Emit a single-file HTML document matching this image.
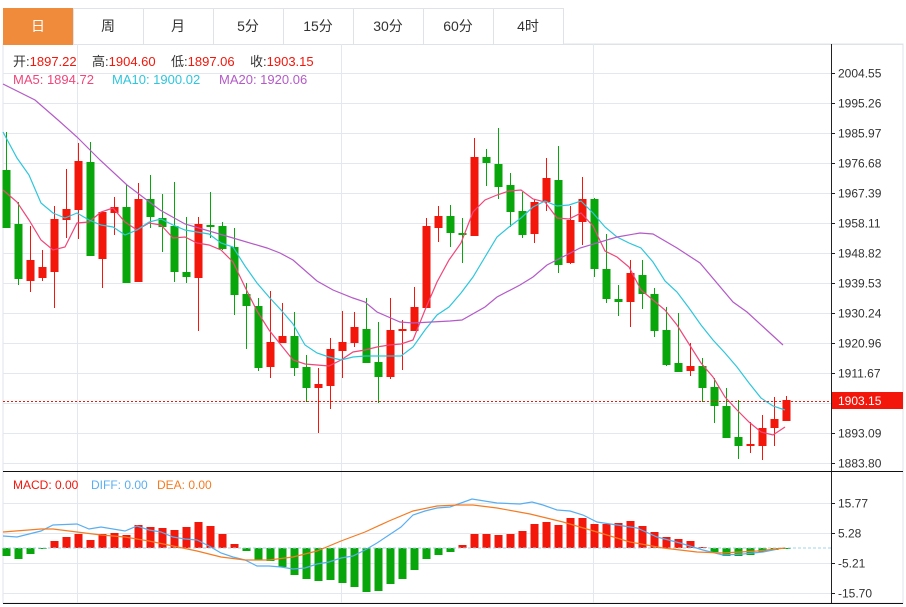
<!DOCTYPE html>
<html><head><meta charset="utf-8">
<style>
html,body{margin:0;padding:0;background:#fff;width:906px;height:607px;overflow:hidden}
svg{display:block;font-family:"Liberation Sans","Noto Sans CJK SC",sans-serif}
</style></head><body>
<svg id="s" width="906" height="607" xmlns="http://www.w3.org/2000/svg"></svg>
<script>
var S=document.getElementById('s'),h='';
var R='#f2160b',G='#08a60a';
// frame
h+='<rect x="3" y="44" width="900" height="559" fill="none" stroke="#dfe3e8"/>';
// tabs
var tabs=['日','周','月','5分','15分','30分','60分','4时'];
for(var i=0;i<8;i++){var x=3+i*70;
 h+='<rect x="'+(x+0.5)+'" y="8.5" width="70" height="36" fill="'+(i==0?'#f08b3c':'#fff')+'" stroke="'+(i==0?'#f08b3c':'#dfe3e8')+'"/>';
 h+='<text x="'+(x+35)+'" y="31" text-anchor="middle" font-size="14" fill="'+(i==0?'#fff':'#333')+'">'+tabs[i]+'</text>';}
h+='<line x1="563" y1="44.5" x2="903" y2="44.5" stroke="#dfe3e8"/>';
// grids
for(var y=73;y<=463;y+=30)h+='<line x1="3" y1="'+(y+.5)+'" x2="831" y2="'+(y+.5)+'" stroke="#e3e8ee"/>';
[77,341,593].forEach(function(x){h+='<line x1="'+(x+.5)+'" y1="44" x2="'+(x+.5)+'" y2="603" stroke="#e3e8ee"/>';});
[503,533,563,593].forEach(function(y){h+='<line x1="3" y1="'+(y+.5)+'" x2="831" y2="'+(y+.5)+'" stroke="#e3e8ee"/>';});
// axes
h+='<line x1="831.5" y1="44" x2="831.5" y2="603" stroke="#222"/>';
h+='<line x1="3" y1="471.5" x2="903" y2="471.5" stroke="#111"/>';
h+='<line x1="3" y1="603.5" x2="903" y2="603.5" stroke="#111"/>';
var lab=['2004.55','1995.26','1985.97','1976.68','1967.39','1958.11','1948.82','1939.53','1930.24','1920.96','1911.67','1903.15','1893.09','1883.80'];
var ly=[73,103,133,163,193,223,253,283,313,343,373,401,433,463];
for(var i=0;i<lab.length;i++){if(i==11)continue;h+='<line x1="831" y1="'+(ly[i]+.5)+'" x2="835" y2="'+(ly[i]+.5)+'" stroke="#222"/><text x="838" y="'+(ly[i]+4.5)+'" font-size="12" fill="#333">'+lab[i]+'</text>';}
var ml=['15.77','5.28','-5.21','-15.70'],my=[503,533,563,593];
for(var i=0;i<4;i++)h+='<line x1="831" y1="'+(my[i]+.5)+'" x2="835" y2="'+(my[i]+.5)+'" stroke="#222"/><text x="838" y="'+(my[i]+4.5)+'" font-size="12" fill="#333">'+ml[i]+'</text>';
// candles
var C=[['g',170,228,132,228],['g',224,279,202,285],['r',260,281,226,292],['r',267,278,250,281],['r',219,272,206,308],['r',209,220,169,238],['r',161,210,143,239],['g',162,256,142,256],['r',212,259,212,288],['r',207,213,197,235],['g',207,283,185,283],['r',199,282,183,282],['g',199,217,175,228],['g',218,227,194,252],['g',226,272,182,282],['g',272,277,217,283],['r',224,278,217,331],['g',225,227,192,238],['g',226,249,222,250],['g',247,295,228,315],['g',294,306,283,349],['g',306,368,298,371],['r',342,367,291,378],['r',336,343,303,343],['g',336,368,312,376],['g',367,388,355,402],['r',384,388,368,433],['r',349,386,338,409],['r',342,351,311,378],['r',327,343,312,347],['g',329,363,298,363],['g',362,377,322,403],['r',330,377,298,379],['r',329,331,320,370],['r',307,331,287,331],['r',226,308,218,308],
['r',216,228,206,242],['g',216,233,205,247],['g',233,235,218,263],['r',157,236,138,236],['g',157,163,149,186],['g',164,187,128,199],['g',185,212,173,227],['g',211,235,192,238],['r',202,234,199,243],['r',178,202,158,211],['g',180,265,146,273],['r',220,263,206,264],['r',199,222,177,245],['g',199,269,198,277],['g',269,299,234,303],['g',299,302,285,316],['r',273,302,260,327],['g',275,294,260,309],['g',294,331,288,337],['g',330,365,307,366],['g',363,372,313,372],['r',366,371,343,376],['g',366,388,358,402],['g',387,406,378,423],['g',406,438,388,438],['g',437,446,400,459],['r',444,446,422,453],['r',428,446,415,460],['r',419,428,397,446],['r',400,421,396,421]];
for(var i=0;i<C.length;i++){var c=C[i],x=6+12*i,col=c[0]=='r'?R:G;
 h+='<line x1="'+(x+.5)+'" y1="'+c[3]+'" x2="'+(x+.5)+'" y2="'+c[4]+'" stroke="'+col+'"/>';
 h+='<rect x="'+(x-3.5)+'" y="'+c[1]+'" width="8" height="'+Math.max(2,c[2]-c[1])+'" fill="'+col+'"/>';}
function pl(pts,col){var s=pts.map(function(p){return p.join(',')}).join(' ');h+='<polyline points="'+s+'" fill="none" stroke="'+col+'" stroke-width="1.2"/>';}
function idx(arr){return arr.map(function(v,i){return [6+12*i,v]})}
pl([[3,190],[17,202],[29,220],[41,240],[53,250],[65,247],[77,223],[89,222],[101,212],[113,208],[125,222],[137,230],[149,223],[161,225],[173,238],[185,237],[197,243],[209,245],[221,250],[233,262],[245,287],[257,311],[269,330],[281,345],[293,360],[305,364],[317,365],[329,366],[341,360],[353,352],[365,350],[377,347],[389,345],[401,344],[413,340],[425,310],[437,282],[449,260],[461,243],[473,212],[485,200],[497,195],[509,191],[521,190],[533,199],[545,202],[557,218],[569,219],[581,213],[593,226],[605,251],[617,257],[629,267],[641,290],[653,300],[665,310],[677,325],[689,344],[701,363],[713,377],[725,397],[737,410],[749,422],[761,432],[773,435],[785,427]],'#f0467a');
pl([[3,132],[17,158],[29,175],[41,203],[53,213],[65,218],[77,213],[89,220],[101,225],[113,227],[125,235],[137,230],[149,222],[161,219],[173,225],[185,230],[197,232],[209,234],[221,243],[233,247],[245,266],[257,283],[269,297],[281,310],[293,324],[305,345],[317,353],[329,357],[341,360],[353,357],[365,356],[377,356],[389,356],[401,356],[413,347],[425,330],[437,315],[449,307],[461,293],[473,277],[485,257],[497,237],[509,227],[521,218],[533,207],[545,201],[557,206],[569,205],[581,201],[593,213],[605,227],[617,237],[629,243],[641,248],[653,262],[665,281],[677,292],[689,308],[701,325],[713,340],[725,353],[737,367],[749,383],[761,398],[773,406],[785,410]],'#2ec6dc');
pl([[3,84],[35,100],[58,120],[77,137],[100,160],[127,185],[160,210],[185,224],[233,238],[267,248],[280,253],[293,260],[317,281],[333,290],[353,298],[365,302],[377,312],[400,322],[413,323],[450,321],[462,320],[485,307],[497,297],[520,285],[533,277],[547,265],[580,248],[617,237],[640,233],[653,234],[677,248],[700,263],[733,302],[747,312],[783,345]],'#b45ac8');
// price line
h+='<line x1="3" y1="401.5" x2="831" y2="401.5" stroke="'+R+'" stroke-dasharray="2,2"/>';
h+='<rect x="832" y="392" width="71" height="17" fill="'+R+'"/><text x="838" y="405" font-size="12" fill="#fff">1903.15</text>';
// legends
h+='<text x="13" y="66" font-size="13"><tspan fill="#333">开:</tspan><tspan fill="'+R+'">1897.22</tspan><tspan x="92" fill="#333">高:</tspan><tspan fill="'+R+'">1904.60</tspan><tspan x="171" fill="#333">低:</tspan><tspan fill="'+R+'">1897.06</tspan><tspan x="250" fill="#333">收:</tspan><tspan fill="'+R+'">1903.15</tspan></text>';
h+='<text x="13" y="84" font-size="13"><tspan fill="#f0467a">MA5: 1894.72</tspan><tspan x="112" fill="#2ec6dc">MA10: 1900.02</tspan><tspan x="219" fill="#b45ac8">MA20: 1920.06</tspan></text>';
// MACD
var M=[556,559,554,549,541,537,534,540,534,533,535,525,527,528,530,527,522,526,534,544,551,560,561,567,575,579,581,580,583,587,592,591,584,579,570,559,555,552,545,534,534,535,534,531,524,522,525,518,518,524,524,523,521,526,532,537,539,541,547,552,556,556,555,552,550,549];
for(var i=0;i<M.length;i++){var x=6+12*i,v=M[i],z=548;
 h+='<rect x="'+(x-3.5)+'" y="'+Math.min(v,z)+'" width="8" height="'+Math.max(1,Math.abs(v-z))+'" fill="'+(v<z?R:G)+'"/>';}
h+='<line x1="3" y1="548" x2="831" y2="548" stroke="#9fd4ea" stroke-dasharray="3,2"/>';
pl([[3,536],[17,537],[41,531],[53,525],[77,524],[89,529],[101,527],[125,531],[137,526],[149,530],[161,532],[173,537],[185,539],[197,540],[209,546],[221,553],[233,557],[245,560],[257,566],[269,566],[281,567],[293,569],[305,568],[317,564],[329,562],[341,558],[353,556],[365,550],[377,543],[389,535],[401,527],[413,515],[425,511],[437,508],[450,507],[472,499],[497,503],[520,504],[532,502],[543,505],[557,510],[570,511],[583,515],[597,522],[617,525],[637,528],[657,537],[680,543],[703,550],[723,555],[743,554],[763,552],[778,549]],'#5aaef0');
pl([[3,532],[41,529],[53,529],[77,532],[101,535],[125,537],[149,541],[173,546],[197,551],[221,557],[245,560],[269,560],[293,557],[317,551],[341,541],[365,532],[389,521],[413,511],[437,506],[457,505],[473,505],[497,508],[530,514],[563,522],[597,532],[630,542],[663,548],[697,552],[723,553],[757,551],[785,548]],'#f57b22');
h+='<text x="13" y="489" font-size="12"><tspan fill="'+R+'">MACD: 0.00</tspan><tspan x="91" fill="#5aaef0">DIFF: 0.00</tspan><tspan x="157" fill="#f57b22">DEA: 0.00</tspan></text>';
S.innerHTML=h;
</script>
</body></html>
